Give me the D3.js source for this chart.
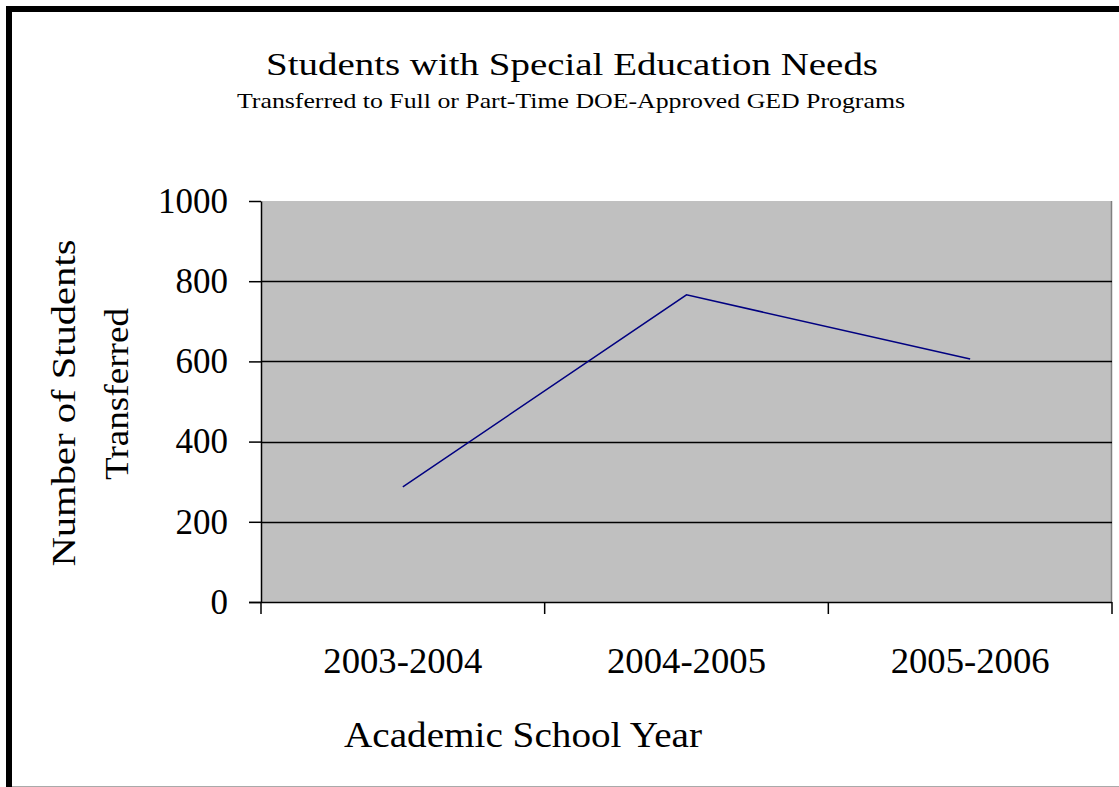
<!DOCTYPE html>
<html>
<head>
<meta charset="utf-8">
<script src="https://cdn.jsdelivr.net/npm/d3@7"></script>
<style>
  body { margin: 0; background: #fff; }
  svg { display: block; }
  text { font-family: "Liberation Serif", "Times New Roman", serif; fill: #000; }
</style>
</head>
<body>
<script>
var years = ["2003-2004", "2004-2005", "2005-2006"];
var transferred = [287, 766, 606];
var yTicks = [0, 200, 400, 600, 800, 1000];

var width = 1119;
var height = 787;
var plotLeft = 261, plotRight = 1112, plotTop = 201, plotBottom = 602;

var svg = d3.select("body").append("svg")
    .attr("width", width)
    .attr("height", height);

svg.append("rect")
    .attr("width", width).attr("height", height)
    .attr("fill", "#fff");

// outer frame
svg.append("rect")
    .attr("x", 9).attr("y", 9)
    .attr("width", 1200).attr("height", 900)
    .attr("fill", "none")
    .attr("stroke", "#000")
    .attr("stroke-width", 6);
svg.append("line")
    .attr("x1", 12).attr("x2", width)
    .attr("y1", 786.5).attr("y2", 786.5)
    .attr("stroke", "#aaa");

var x = d3.scaleBand().domain(years).range([plotLeft, plotRight]);
var y = d3.scaleLinear().domain([0, 1000]).range([plotBottom, plotTop]);

// plot area
svg.append("rect")
    .attr("x", plotLeft).attr("y", plotTop)
    .attr("width", plotRight - plotLeft).attr("height", plotBottom - plotTop)
    .attr("fill", "#c0c0c0");
svg.append("line")
    .attr("x1", plotRight - 0.5).attr("x2", plotRight - 0.5)
    .attr("y1", plotTop).attr("y2", plotBottom)
    .attr("stroke", "#808080").attr("stroke-width", 1.5);

// gridlines
svg.append("g").selectAll("line")
    .data(yTicks.filter(d => d > 0 && d < 1000))
    .enter().append("line")
    .attr("x1", plotLeft).attr("x2", plotRight)
    .attr("y1", d => Math.round(y(d)) + 0.5)
    .attr("y2", d => Math.round(y(d)) + 0.5)
    .attr("stroke", "#000")
    .attr("stroke-width", 1.5);

// y axis
var yAxis = svg.append("g")
    .attr("transform", "translate(" + plotLeft + ",0)")
    .call(d3.axisLeft(y).tickValues(yTicks).tickFormat(d3.format("d"))
        .tickSize(12).tickPadding(21).tickSizeOuter(0));
yAxis.selectAll("path, line").attr("stroke", "#000").attr("stroke-width", 1.5);
yAxis.selectAll("text")
    .attr("font-size", 35)
    .attr("font-family", "Liberation Serif, serif")
    .attr("fill", "#000");

// x axis
svg.append("line")
    .attr("x1", plotLeft - 12).attr("x2", plotRight)
    .attr("y1", plotBottom + 0.5).attr("y2", plotBottom + 0.5)
    .attr("stroke", "#000").attr("stroke-width", 1.5);
var edges = years.map(d => x(d)).concat([x(years[years.length - 1]) + x.bandwidth()]);
svg.append("g").selectAll("line")
    .data(edges)
    .enter().append("line")
    .attr("x1", d => d).attr("x2", d => d)
    .attr("y1", plotBottom).attr("y2", plotBottom + 12)
    .attr("stroke", "#000").attr("stroke-width", 1.5);
svg.append("g").selectAll("text")
    .data(years)
    .enter().append("text")
    .attr("x", d => x(d) + x.bandwidth() / 2)
    .attr("y", 673)
    .attr("text-anchor", "middle")
    .attr("font-size", 36)
    .attr("textLength", 159)
    .attr("lengthAdjust", "spacingAndGlyphs")
    .text(d => d);

// data line
var line = d3.line()
    .x((d, i) => x(years[i]) + x.bandwidth() / 2)
    .y(d => y(d));
svg.append("path")
    .datum(transferred)
    .attr("d", line)
    .attr("fill", "none")
    .attr("stroke", "#000080")
    .attr("stroke-width", 1.5);

// titles
svg.append("text")
    .attr("x", 572).attr("y", 75)
    .attr("text-anchor", "middle")
    .attr("font-size", 32)
    .attr("textLength", 612)
    .attr("lengthAdjust", "spacingAndGlyphs")
    .text("Students with Special Education Needs");
svg.append("text")
    .attr("x", 571).attr("y", 108)
    .attr("text-anchor", "middle")
    .attr("font-size", 22)
    .attr("textLength", 668)
    .attr("lengthAdjust", "spacingAndGlyphs")
    .text("Transferred to Full or Part-Time DOE-Approved GED Programs");

svg.append("text")
    .attr("x", 523).attr("y", 747)
    .attr("text-anchor", "middle")
    .attr("font-size", 36)
    .attr("textLength", 358)
    .attr("lengthAdjust", "spacingAndGlyphs")
    .text("Academic School Year");

svg.append("text")
    .attr("transform", "translate(75,403) rotate(-90)")
    .attr("text-anchor", "middle")
    .attr("font-size", 34)
    .attr("textLength", 327)
    .attr("lengthAdjust", "spacingAndGlyphs")
    .text("Number of Students");
svg.append("text")
    .attr("transform", "translate(128,394) rotate(-90)")
    .attr("text-anchor", "middle")
    .attr("font-size", 34)
    .attr("textLength", 172)
    .attr("lengthAdjust", "spacingAndGlyphs")
    .text("Transferred");
</script>
</body>
</html>
